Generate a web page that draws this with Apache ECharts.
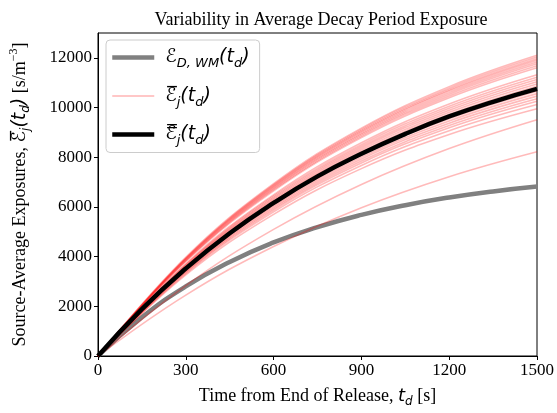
<!DOCTYPE html>
<html><head><meta charset="utf-8">
<script src="https://cdn.jsdelivr.net/npm/echarts@6/dist/echarts.min.js"></script>
<style>html,body{margin:0;padding:0;background:#fff}#c{width:557px;height:413px}</style>
</head><body><div id="c"></div>
<script>
const xTicks = [0, 300, 600, 900, 1200, 1500];
const yTicks = [0, 2000, 4000, 6000, 8000, 10000, 12000];
const timesFine = [0, 150, 300, 450, 600, 750, 900, 1050, 1200, 1350, 1500];
const timesRed = [0, 300, 600, 900, 1200, 1500];
const grayWM = [0, 1560, 2800, 3785, 4570, 5185, 5680, 6070, 6380, 6625, 6820];
const blackMean = [0, 1890, 3520, 4940, 6160, 7230, 8140, 8940, 9640, 10230, 10750];
const redUpper = [
  [0, 3969, 6933, 9172, 10842, 12100],
  [0, 3946, 6893, 9119, 10779, 12030],
  [0, 3923, 6853, 9066, 10716, 11960],
  [0, 3903, 6819, 9020, 10662, 11900],
  [0, 3880, 6779, 8967, 10600, 11830],
  [0, 3857, 6738, 8914, 10537, 11760],
  [0, 3831, 6693, 8853, 10465, 11680],
  [0, 3805, 6647, 8793, 10394, 11600]
];
const redMiddle = [
  [0, 3713, 6486, 8581, 10143, 11320],
  [0, 3680, 6429, 8505, 10053, 11220],
  [0, 3651, 6377, 8437, 9972, 11130],
  [0, 3621, 6326, 8368, 9892, 11040],
  [0, 3592, 6274, 8300, 9811, 10950],
  [0, 3562, 6223, 8232, 9731, 10860],
  [0, 3529, 6165, 8156, 9641, 10760],
  [0, 3496, 6108, 8080, 9551, 10660],
  [0, 3464, 6051, 8004, 9462, 10560],
  [0, 3431, 5994, 7929, 9372, 10460],
  [0, 3395, 5931, 7845, 9274, 10350],
  [0, 3362, 5873, 7770, 9184, 10250],
  [0, 3319, 5799, 7671, 9068, 10120],
  [0, 3264, 5701, 7542, 8915, 9950]
];
const redLow = [
  [0, 2834, 5097, 6904, 8350, 9510],
  [0, 2450, 4406, 5968, 7217, 8220]
];

const serif = '"Liberation Serif", "DejaVu Serif", serif';
const math = '"DejaVu Sans", sans-serif';
const chart = echarts.init(document.getElementById('c'));
const pairs = (ts, vs) => ts.map((t, i) => [t, vs[i]]);
const redColor = 'rgba(255,0,0,0.27)';

const series = [];
series.push({name: 'EDWM', type: 'line', data: pairs(timesFine, grayWM), smooth: true, symbol: 'none',
  lineStyle: {color: '#808080', width: 4.5}, itemStyle: {color: '#808080'}, z: 2});
redUpper.concat(redMiddle, redLow).forEach(r => series.push({name: 'Ej', type: 'line', data: pairs(timesRed, r), smooth: 0.4, symbol: 'none',
  lineStyle: {color: redColor, width: 1.6}, itemStyle: {color: redColor}, z: 3}));
series.push({name: 'Ejbar', type: 'line', data: pairs(timesFine, blackMean), smooth: true, symbol: 'none',
  lineStyle: {color: '#000', width: 4.5}, itemStyle: {color: '#000'}, z: 4});

const mrich = {
  m: {fontFamily: math, fontStyle: 'italic', fontSize: 19, lineHeight: 26, verticalAlign: 'middle', color: '#000'},
  s: {fontFamily: math, fontStyle: 'italic', fontSize: 13, lineHeight: 26, verticalAlign: 'bottom', color: '#000'}
};
const legendText = {
  EDWM: '{m|ℰ}{s|D, WM}{m|(t}{s|d}{m|)}',
  Ej: '{m|ℰ̅}{s|j}{m|(t}{s|d}{m|)}',
  Ejbar: '{m|ℰ̿}{s|j}{m|(t}{s|d}{m|)}'
};

chart.setOption({
  animation: false,
  title: {text: 'Variability in Average Decay Period Exposure', left: 316, textAlign: 'center', top: 6,
    textStyle: {fontFamily: serif, fontWeight: 'normal', fontSize: 18, color: '#000'}},
  grid: {left: 96, right: 20, top: 33, bottom: 53, show: true, borderColor: '#000', borderWidth: 1},
  legend: {
    data: [{name: 'EDWM', itemStyle: {opacity: 0}, lineStyle: {color: '#808080', width: 4.5}},
           {name: 'Ej', itemStyle: {opacity: 0}, lineStyle: {color: 'rgba(255,0,0,0.22)', width: 1.8}},
           {name: 'Ejbar', itemStyle: {opacity: 0}, lineStyle: {color: '#000', width: 4.5}}],
    orient: 'vertical', left: 106, top: 40, itemWidth: 42, itemHeight: 14, itemGap: 16,
    padding: [8, 10, 5, 4], borderColor: '#ccc', borderWidth: 1, borderRadius: 4, backgroundColor: 'rgba(255,255,255,0.8)',
    formatter: n => legendText[n], textStyle: {rich: mrich, color: '#000', padding: [0, 0, 0, 6]}
  },
  xAxis: {type: 'value', min: 0, max: 1500, interval: 300,
    name: '{t|Time from End of Release, }{m|t}{s|d}{t| [s]}', nameLocation: 'middle', nameGap: 28,
    nameTextStyle: {rich: {t: {fontFamily: serif, fontSize: 18, color: '#000', lineHeight: 24},
      m: {fontFamily: math, fontStyle: 'italic', fontSize: 18, color: '#000', lineHeight: 24},
      s: {fontFamily: math, fontStyle: 'italic', fontSize: 12, color: '#000', lineHeight: 24, verticalAlign: 'bottom'}}},
    axisLine: {lineStyle: {color: '#000'}}, splitLine: {show: false},
    axisTick: {length: 4, lineStyle: {color: '#000'}, customValues: xTicks},
    axisLabel: {fontFamily: serif, fontSize: 17, color: '#000', margin: 6, customValues: xTicks, formatter: v => String(v)}},
  yAxis: {type: 'value', min: 0, max: 13000,
    name: '{t|Source-Average Exposures, }{m|ℰ̅}{s|j}{m|(t}{s|d}{m|)}{t| [s/m}{p|−3}{t|]}', nameLocation: 'middle', nameGap: 66,
    nameTextStyle: {rich: {t: {fontFamily: serif, fontSize: 18, color: '#000', lineHeight: 24},
      m: {fontFamily: math, fontStyle: 'italic', fontSize: 19, color: '#000', lineHeight: 24},
      s: {fontFamily: math, fontStyle: 'italic', fontSize: 12, color: '#000', lineHeight: 24, verticalAlign: 'bottom'},
      p: {fontFamily: serif, fontSize: 12, color: '#000', lineHeight: 24, verticalAlign: 'top'}}},
    axisLine: {show: true, lineStyle: {color: '#000'}}, splitLine: {show: false},
    axisTick: {show: true, length: 4, lineStyle: {color: '#000'}, customValues: yTicks},
    axisLabel: {fontFamily: serif, fontSize: 17, color: '#000', margin: 6, customValues: yTicks, formatter: v => String(v)}},
  series: series
});
</script></body></html>
